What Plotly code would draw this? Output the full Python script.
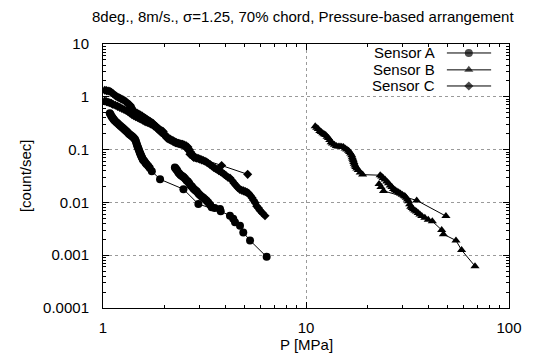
import plotly.graph_objects as go

TITLE = "8deg., 8m/s., σ=1.25, 70% chord, Pressure-based arrangement"
X_LABEL = "P [MPa]"
Y_LABEL = "[count/sec]"
X_TICKS = [1, 10, 100]
X_TICK_TEXT = ["1", "10", "100"]
Y_TICKS = [0.0001, 0.001, 0.01, 0.1, 1, 10]
Y_TICK_TEXT = ["0.0001", "0.001", "0.01", "0.1", "1", "10"]
SENSOR_NAMES = ["Sensor A", "Sensor B", "Sensor C"]

# Sensor A (two runs)
A1_P = [1.08, 1.09, 1.10, 1.11, 1.12, 1.13, 1.14, 1.16, 1.18, 1.20,
        1.22, 1.24, 1.26, 1.28, 1.30, 1.32, 1.34, 1.36, 1.38, 1.40,
        1.42, 1.44, 1.45, 1.46, 1.47, 1.48, 1.49, 1.50, 1.51, 1.52,
        1.53, 1.54, 1.55, 1.56, 1.57, 1.58, 1.60, 1.62, 1.64, 1.67,
        1.70, 1.74, 1.91, 2.49, 2.95, 3.80, 4.22, 4.38, 4.47, 4.73,
        4.91, 5.30, 6.40]
A1_R = [0.49, 0.46, 0.43, 0.41, 0.39, 0.37, 0.355, 0.335, 0.315, 0.295,
        0.28, 0.265, 0.25, 0.238, 0.225, 0.212, 0.20, 0.192, 0.183, 0.175,
        0.166, 0.155, 0.145, 0.134, 0.124, 0.115, 0.107, 0.100, 0.093, 0.087,
        0.082, 0.077, 0.073, 0.069, 0.066, 0.063, 0.060, 0.056, 0.053, 0.049,
        0.045, 0.039, 0.0274, 0.0178, 0.0093, 0.0068, 0.0056, 0.0049, 0.0042, 0.0036,
        0.0027, 0.0019, 0.00093]
A2_P = [2.26, 2.28, 2.30, 2.32, 2.35, 2.38, 2.41, 2.44, 2.47, 2.50,
        2.54, 2.58, 2.62, 2.66, 2.70, 2.74, 2.78, 2.82, 2.86, 2.90,
        2.95, 3.00, 3.06, 3.12, 3.18, 3.24, 3.30, 3.37, 3.43, 3.55, 3.77]
A2_R = [0.046, 0.044, 0.042, 0.040, 0.037, 0.035, 0.033, 0.032, 0.031, 0.030,
        0.028, 0.026, 0.025, 0.023, 0.021, 0.020, 0.0185, 0.0175, 0.0168, 0.016,
        0.0148, 0.0138, 0.0130, 0.0122, 0.0115, 0.0108, 0.0100, 0.0090, 0.0081, 0.0078, 0.0075]

# Sensor B (two runs)
B1_P = [11.1, 11.3, 11.5, 11.7, 11.9, 12.1, 12.3, 12.5, 12.7, 12.9,
        13.1, 13.3, 13.5, 13.8, 14.1, 14.4, 14.7, 15.0, 15.3, 15.6,
        15.9, 16.2, 16.4, 16.6, 16.8, 16.9, 17.0, 17.1, 17.2, 17.3,
        17.45, 17.6, 17.8, 18.1, 18.5, 19.0, 23.2, 23.6, 24.0, 24.5,
        25.0, 25.5, 26.0, 26.5, 27.0, 27.5, 28.0, 28.6, 29.2, 29.8,
        30.4, 30.8, 31.2, 31.6, 32.0, 32.4, 32.8, 33.3, 33.8, 34.4,
        35.0, 35.7, 36.4, 37.2, 38.5, 40.0, 41.9, 46.6, 47.5, 54.8,
        58.4, 68.0]
B1_R = [0.276, 0.26, 0.245, 0.225, 0.215, 0.205, 0.195, 0.188, 0.175, 0.165,
        0.152, 0.138, 0.130, 0.124, 0.117, 0.115, 0.114, 0.113, 0.112, 0.105,
        0.100, 0.095, 0.090, 0.084, 0.078, 0.072, 0.067, 0.063, 0.058, 0.054,
        0.050, 0.047, 0.044, 0.041, 0.037, 0.0336, 0.0327, 0.031, 0.029, 0.027,
        0.025, 0.023, 0.021, 0.0195, 0.018, 0.017, 0.0163, 0.0155, 0.0148, 0.014,
        0.0134, 0.013, 0.0122, 0.0114, 0.0105, 0.0092, 0.0083, 0.0078, 0.0074, 0.0070,
        0.0067, 0.0063, 0.0059, 0.0055, 0.0051, 0.0047, 0.0044, 0.0030, 0.0025, 0.0019,
        0.00125, 0.00062]
B2_P = [22.9, 23.4, 24.1, 35.1, 48.9]
B2_R = [0.0224, 0.0195, 0.0165, 0.0109, 0.0055]

# Sensor C (two runs)
C1_P = [1.02, 1.04, 1.06, 1.08, 1.10, 1.12, 1.14, 1.16, 1.18, 1.20,
        1.22, 1.24, 1.26, 1.28, 1.30, 1.32, 1.34, 1.36, 1.37, 1.38,
        1.40, 1.42, 1.44, 1.47, 1.50, 1.53, 1.56, 1.59, 1.62, 1.65,
        1.68, 1.71, 1.74, 1.77, 1.80, 1.83, 1.86, 1.89, 1.92, 1.95,
        1.98, 2.00, 2.02, 2.04, 2.06, 2.09, 2.12, 2.16, 2.20, 2.24,
        2.28, 2.32, 2.37, 2.42, 2.47, 2.52, 2.57, 2.62, 2.66, 2.70,
        2.74, 2.79, 3.84, 5.16]
C1_R = [1.33, 1.31, 1.29, 1.27, 1.22, 1.15, 1.08, 1.03, 0.99, 0.96,
        0.93, 0.90, 0.87, 0.84, 0.80, 0.76, 0.73, 0.70, 0.66, 0.62,
        0.57, 0.54, 0.51, 0.49, 0.47, 0.45, 0.43, 0.41, 0.39, 0.37,
        0.355, 0.34, 0.325, 0.31, 0.29, 0.275, 0.26, 0.245, 0.235, 0.228,
        0.22, 0.20, 0.19, 0.178, 0.166, 0.16, 0.155, 0.15, 0.145, 0.14,
        0.135, 0.132, 0.130, 0.128, 0.126, 0.122, 0.118, 0.112, 0.100, 0.090,
        0.083, 0.075, 0.050, 0.034]
C2_P = [1.02, 1.04, 1.06, 1.08, 1.10, 1.12, 1.15, 1.18, 1.21, 1.24,
        1.27, 1.30, 1.33, 1.36, 1.39, 1.42, 1.45, 1.48, 1.51, 1.54,
        1.57, 1.60, 1.63, 1.66, 1.69, 1.72, 1.75, 1.78, 1.81, 1.84,
        1.87, 1.90, 1.94, 1.98, 2.02, 2.06, 2.10, 2.14, 2.18, 2.22,
        2.26, 2.30, 2.35, 2.40, 2.45, 2.50, 2.55, 2.60, 2.64, 2.68,
        2.72, 2.76, 2.80, 2.85, 2.90, 2.95, 3.00, 3.06, 3.12, 3.18,
        3.24, 3.30, 3.37, 3.44, 3.51, 3.58, 3.65, 3.72, 3.80, 3.88,
        3.96, 4.04, 4.12, 4.22, 4.32, 4.42, 4.52, 4.62, 4.72, 4.82,
        4.92, 5.02, 5.12, 5.22, 5.32, 5.42, 5.52, 5.62, 5.72, 5.83,
        5.94, 6.10, 6.28]
C2_R = [0.83, 0.81, 0.79, 0.77, 0.75, 0.72, 0.69, 0.66, 0.63, 0.60,
        0.575, 0.55, 0.52, 0.49, 0.46, 0.44, 0.42, 0.405, 0.39, 0.375,
        0.36, 0.345, 0.335, 0.325, 0.315, 0.305, 0.295, 0.28, 0.27, 0.255,
        0.24, 0.225, 0.21, 0.20, 0.185, 0.175, 0.165, 0.158, 0.152, 0.146,
        0.140, 0.136, 0.132, 0.128, 0.124, 0.120, 0.114, 0.106, 0.096, 0.082,
        0.080, 0.075, 0.071, 0.070, 0.069, 0.068, 0.066, 0.064, 0.062, 0.060,
        0.058, 0.055, 0.052, 0.049, 0.046, 0.044, 0.042, 0.040, 0.038, 0.036,
        0.034, 0.032, 0.030, 0.029, 0.026, 0.023, 0.021, 0.019, 0.0175, 0.017,
        0.0165, 0.016, 0.0155, 0.0148, 0.0135, 0.0122, 0.011, 0.0098, 0.0085, 0.0078,
        0.0070, 0.0063, 0.0056]

for a, b in [(A1_P, A1_R), (A2_P, A2_R), (B1_P, B1_R), (B2_P, B2_R), (C1_P, C1_R), (C2_P, C2_R)]:
    assert len(a) == len(b), (len(a), len(b))

FONT = "Liberation Sans, Arial, Helvetica, sans-serif"
series = [
    (SENSOR_NAMES[0], A1_P + [None] + A2_P, A1_R + [None] + A2_R, "circle", 8),
    (SENSOR_NAMES[1], B1_P + [None] + B2_P, B1_R + [None] + B2_R, "triangle-up", 8),
    (SENSOR_NAMES[2], C1_P + [None] + C2_P, C1_R + [None] + C2_R, "diamond", 7),
]

fig = go.Figure()
for name, xs, ys, sym, size in series:
    fig.add_trace(go.Scatter(
        x=xs, y=ys, name=name, mode="lines+markers", connectgaps=False,
        line=dict(color="black", width=1),
        marker=dict(symbol=sym, size=size, color="black", line=dict(width=0)),
        showlegend=False, xaxis="x", yaxis="y"))

# gnuplot-style key: text right-aligned, sample line with a point on the right
KEY_TEXT_X = 0.823
KEY_LINE_X = [0.847, 0.901, 0.956]
KEY_Y = [0.966, 0.902, 0.841]
for (name, _, _, sym, size), ky in zip(series, KEY_Y):
    fig.add_trace(go.Scatter(
        x=KEY_LINE_X, y=[ky] * 3, mode="lines+markers",
        line=dict(color="black", width=1),
        marker=dict(symbol=sym, size=[0, size, 0], color="black", line=dict(width=0)),
        showlegend=False, hoverinfo="skip", xaxis="x2", yaxis="y2"))
    fig.add_annotation(text=name, xref="x2", yref="y2", x=KEY_TEXT_X, y=ky,
                       xanchor="right", yanchor="middle", showarrow=False,
                       font=dict(family=FONT, size=15, color="black"))

# axis titles
fig.add_annotation(text=X_LABEL, xref="paper", yref="paper", x=0.5, y=-0.140,
                   xanchor="center", yanchor="middle", showarrow=False,
                   font=dict(family=FONT, size=15, color="black"))
fig.add_annotation(text=Y_LABEL, xref="paper", yref="paper", x=-0.192, y=0.5,
                   xanchor="center", yanchor="middle", showarrow=False, textangle=-90,
                   font=dict(family=FONT, size=15, color="black"))

minor_x = [m * 10 ** e for e in range(0, 2) for m in range(2, 10)]
minor_y = [m * 10.0 ** e for e in range(-4, 1) for m in range(2, 10)]

axis_common = dict(
    type="log", showline=True, linecolor="black", linewidth=1, mirror="allticks",
    ticks="inside", ticklen=6, tickcolor="black", tickwidth=1, automargin=False,
    showgrid=True, gridcolor="#9a9a9a", griddash="dot", gridwidth=1,
    tickfont=dict(family=FONT, size=15, color="black"), zeroline=False,
)

# the page body has an 8px margin, so the figure is laid out 8px up/left
fig.update_layout(
    width=539, height=356,
    margin=dict(l=95, r=38, t=36, b=56, autoexpand=False),
    paper_bgcolor="white", plot_bgcolor="white",
    font=dict(family=FONT, size=15, color="black"),
    title=dict(text=TITLE, x=0.547, xanchor="center", y=1 - 9 / 356, yanchor="middle",
               font=dict(family=FONT, size=15, color="black")),
    xaxis=dict(axis_common, range=[0, 2], tickmode="array", tickvals=X_TICKS, ticktext=X_TICK_TEXT,
               ticklabelstandoff=6,
               minor=dict(tickmode="array", tickvals=minor_x, ticks="inside", ticklen=3,
                          tickcolor="black", showgrid=False)),
    yaxis=dict(axis_common, range=[-4, 1], tickmode="array", tickvals=Y_TICKS, ticktext=Y_TICK_TEXT,
               ticklabelstandoff=10,
               minor=dict(tickmode="array", tickvals=minor_y, ticks="inside", ticklen=3,
                          tickcolor="black", showgrid=False)),
    xaxis2=dict(overlaying="x", range=[0, 1], visible=False, fixedrange=True),
    yaxis2=dict(overlaying="y", range=[0, 1], visible=False, fixedrange=True),
)

fig.write_html("out.html")
